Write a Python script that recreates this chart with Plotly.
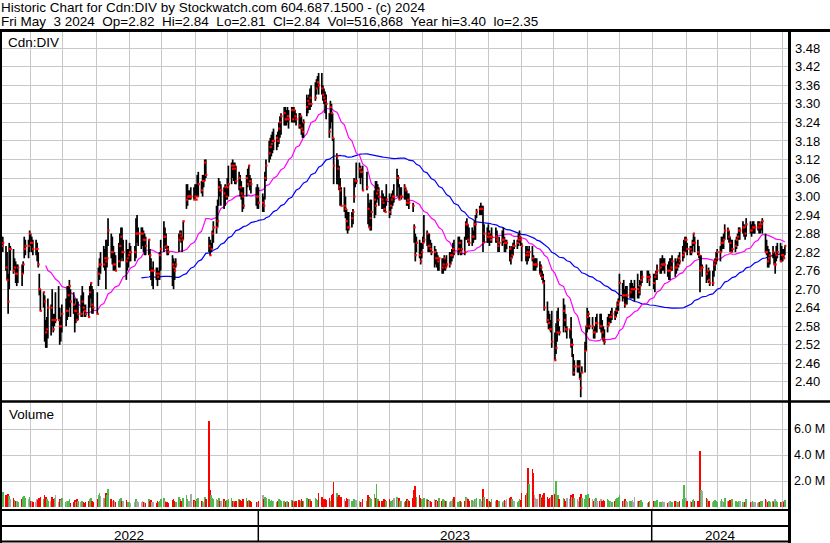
import numpy as np
import pandas as pd
import plotly.graph_objects as go

# ---------------- data ----------------
holidays = ["2022-05-23", "2022-07-01", "2022-08-01", "2022-09-05", "2022-10-10",
            "2022-12-26", "2022-12-27", "2023-01-02", "2023-02-20", "2023-04-07",
            "2023-05-22", "2023-07-03", "2023-08-07", "2023-09-04", "2023-10-09",
            "2023-12-25", "2023-12-26", "2024-01-01", "2024-02-19", "2024-03-29"]

highs = [
    2.88, 2.87, 2.87, 2.84, 2.82, 2.75, 2.85, 2.84, 2.83, 2.80, 2.79, 2.78, 2.78, 2.78, 2.79, 2.87, 2.86, 2.86, 2.89,  # May 22
    2.88, 2.87, 2.86, 2.86, 2.85, 2.82, 2.75, 2.70, 2.69, 2.68, 2.60, 2.61, 2.67, 2.65, 2.70, 2.62, 2.62, 2.69, 2.71, 2.64, 2.61, 2.65,  # Jun
    2.67, 2.71, 2.71, 2.73, 2.70, 2.69, 2.67, 2.65, 2.67, 2.66, 2.68, 2.71, 2.69, 2.65, 2.65, 2.68, 2.71, 2.72, 2.71, 2.70,  # Jul
    2.69, 2.77, 2.80, 2.82, 2.84, 2.83, 2.86, 2.86, 2.93, 2.88, 2.87, 2.84, 2.82, 2.81, 2.85, 2.88, 2.90, 2.90, 2.86, 2.86, 2.83, 2.83,  # Aug
    2.85, 2.84, 2.84, 2.93, 2.94, 2.90, 2.90, 2.90, 2.89, 2.88, 2.87, 2.86, 2.83, 2.80, 2.77, 2.79, 2.77, 2.77, 2.76, 2.82, 2.86,  # Sep
    2.92, 2.90, 2.88, 2.84, 2.84, 2.81, 2.80, 2.79, 2.80, 2.88, 2.89, 2.89, 2.87, 2.92, 3.04, 3.04, 3.02, 3.02, 3.03, 3.03,  # Oct
    3.04, 3.04, 3.07, 3.08, 3.05, 3.07, 3.07, 3.12, 3.12, 2.87, 2.86, 2.85, 2.89, 2.92, 2.97, 2.99, 3.06, 3.05, 3.04, 3.03, 3.04, 3.03,  # Nov
    3.06, 3.10, 3.11, 3.12, 3.11, 3.11, 3.10, 3.08, 3.07, 3.05, 3.03, 3.03, 3.07, 3.09, 3.10, 3.07, 3.06, 3.03, 3.04, 3.03,  # Dec
    3.01, 3.00, 3.08, 3.12, 3.18, 3.19, 3.20, 3.21, 3.22, 3.20, 3.21, 3.24, 3.26, 3.27, 3.29, 3.29, 3.28, 3.29, 3.28, 3.29, 3.29,  # Jan 23
    3.29, 3.28, 3.27, 3.27, 3.27, 3.26, 3.24, 3.25, 3.33, 3.32, 3.33, 3.35, 3.36, 3.37, 3.38, 3.39, 3.40, 3.40, 3.36,  # Feb
    3.35, 3.34, 3.33, 3.27, 3.31, 3.30, 3.27, 3.19, 3.14, 3.12, 3.10, 3.06, 3.03, 3.03, 3.00, 2.96, 2.95, 2.95, 2.95, 2.96, 3.06, 3.05, 3.11,  # Mar
    3.11, 3.10, 3.09, 3.10, 3.08, 3.01, 2.98, 2.99, 2.99, 3.02, 3.05, 3.05, 3.04, 3.03, 3.02, 3.01, 3.00, 3.00, 3.04,  # Apr
    3.01, 3.00, 3.01, 3.02, 3.04, 3.09, 3.07, 3.04, 3.03, 3.03, 3.04, 3.03, 3.02, 3.01, 3.01, 2.98, 2.91, 2.88, 2.87, 2.86, 2.85, 2.85,  # May
    2.87, 2.94, 2.89, 2.88, 2.88, 2.86, 2.85, 2.84, 2.83, 2.82, 2.81, 2.80, 2.80, 2.80, 2.81, 2.80, 2.81, 2.82, 2.82, 2.83, 2.85, 2.86,  # Jun
    2.87, 2.87, 2.86, 2.86, 2.87, 2.92, 2.93, 2.91, 2.90, 2.90, 2.89, 2.92, 2.94, 2.96, 2.97, 2.98, 2.97, 2.97, 2.91, 2.90,  # Jul
    2.91, 2.89, 2.88, 2.90, 2.90, 2.89, 2.85, 2.87, 2.89, 2.90, 2.87, 2.86, 2.86, 2.84, 2.83, 2.84, 2.85, 2.86, 2.86, 2.88, 2.89, 2.87,  # Aug
    2.85, 2.84, 2.84, 2.83, 2.84, 2.84, 2.81, 2.80, 2.80, 2.80, 2.79, 2.78, 2.76, 2.75, 2.73, 2.66, 2.63, 2.62, 2.60, 2.63,  # Sep
    2.56, 2.59, 2.63, 2.64, 2.58, 2.67, 2.65, 2.62, 2.58, 2.57, 2.61, 2.54, 2.49, 2.47, 2.47, 2.47, 2.47, 2.43, 2.45, 2.53, 2.58,  # Oct
    2.64, 2.63, 2.61, 2.61, 2.57, 2.58, 2.61, 2.62, 2.62, 2.62, 2.60, 2.58, 2.57, 2.61, 2.62, 2.62, 2.63, 2.64, 2.63, 2.64, 2.66, 2.67,  # Nov
    2.75, 2.72, 2.73, 2.70, 2.71, 2.71, 2.72, 2.73, 2.72, 2.71, 2.73, 2.75, 2.71, 2.73, 2.76, 2.76, 2.76, 2.76, 2.75,  # Dec
    2.75, 2.75, 2.76, 2.78, 2.80, 2.80, 2.81, 2.80, 2.80, 2.78, 2.79, 2.80, 2.80, 2.81, 2.80, 2.79, 2.80, 2.81, 2.82, 2.84, 2.86, 2.87,  # Jan 24
    2.87, 2.85, 2.84, 2.84, 2.86, 2.88, 2.87, 2.86, 2.84, 2.81, 2.81, 2.78, 2.78, 2.76, 2.77, 2.76, 2.76, 2.79, 2.80, 2.82,  # Feb
    2.83, 2.84, 2.87, 2.87, 2.88, 2.91, 2.90, 2.89, 2.87, 2.86, 2.86, 2.86, 2.87, 2.88, 2.90, 2.90, 2.92, 2.91, 2.90, 2.93,  # Mar
    2.92, 2.91, 2.92, 2.92, 2.91, 2.92, 2.92, 2.91, 2.92, 2.93, 2.88, 2.86, 2.84, 2.83, 2.82, 2.84, 2.82, 2.81, 2.84, 2.85, 2.85, 2.84,  # Apr
    2.83, 2.83, 2.84,  # May
]

lows = [
    2.82, 2.82, 2.82, 2.76, 2.73, 2.62, 2.70, 2.76, 2.75, 2.76, 2.72, 2.71, 2.72, 2.71, 2.75, 2.80, 2.81, 2.80, 2.82,
    2.84, 2.82, 2.81, 2.81, 2.79, 2.77, 2.68, 2.63, 2.64, 2.53, 2.51, 2.51, 2.54, 2.55, 2.58, 2.56, 2.58, 2.59, 2.60, 2.52, 2.53, 2.56,
    2.58, 2.60, 2.61, 2.64, 2.61, 2.62, 2.56, 2.59, 2.60, 2.60, 2.61, 2.61, 2.63, 2.61, 2.61, 2.61, 2.64, 2.67, 2.62, 2.62,
    2.62, 2.71, 2.73, 2.75, 2.77, 2.76, 2.70, 2.77, 2.84, 2.80, 2.78, 2.76, 2.76, 2.76, 2.77, 2.77, 2.79, 2.80, 2.79, 2.73, 2.76, 2.77,
    2.79, 2.79, 2.79, 2.80, 2.85, 2.84, 2.83, 2.84, 2.82, 2.81, 2.81, 2.81, 2.76, 2.73, 2.71, 2.70, 2.73, 2.71, 2.73, 2.73, 2.76,
    2.82, 2.84, 2.83, 2.81, 2.81, 2.71, 2.70, 2.73, 2.77, 2.82, 2.86, 2.85, 2.82, 2.86, 2.96, 2.97, 2.99, 2.99, 2.99, 2.99,
    2.99, 3.00, 3.00, 3.00, 3.01, 3.00, 3.03, 3.05, 3.06, 2.82, 2.81, 2.82, 2.83, 2.85, 2.88, 2.90, 2.97, 3.00, 2.97, 2.96, 2.97, 2.99,
    2.99, 3.00, 3.04, 3.06, 3.05, 3.04, 3.04, 3.02, 3.00, 2.99, 2.95, 2.96, 3.00, 3.03, 3.04, 3.02, 3.01, 2.97, 2.96, 2.96,
    2.95, 2.95, 2.99, 3.05, 3.11, 3.12, 3.13, 3.14, 3.15, 3.15, 3.16, 3.17, 3.19, 3.20, 3.23, 3.23, 3.23, 3.24, 3.22, 3.24, 3.24,
    3.24, 3.24, 3.23, 3.22, 3.22, 3.20, 3.19, 3.19, 3.26, 3.27, 3.28, 3.28, 3.29, 3.31, 3.33, 3.35, 3.33, 3.33, 3.31,
    3.30, 3.27, 3.25, 3.19, 3.22, 3.24, 3.18, 3.04, 3.04, 3.04, 3.02, 2.97, 2.97, 2.95, 2.93, 2.89, 2.88, 2.89, 2.90, 2.91, 2.98, 3.03, 3.04,
    3.06, 3.04, 3.06, 3.02, 3.02, 2.91, 2.90, 2.89, 2.89, 2.93, 2.94, 2.98, 2.99, 2.97, 2.96, 2.96, 2.95, 2.95, 2.97,
    2.93, 2.94, 2.96, 2.97, 2.98, 3.00, 3.03, 2.99, 3.00, 2.99, 2.99, 2.99, 2.97, 2.97, 2.96, 2.95, 2.85, 2.79, 2.82, 2.80, 2.78, 2.80,
    2.83, 2.85, 2.84, 2.82, 2.82, 2.82, 2.81, 2.77, 2.78, 2.77, 2.76, 2.76, 2.75, 2.75, 2.76, 2.76, 2.77, 2.77, 2.78, 2.79, 2.80, 2.81,
    2.81, 2.82, 2.81, 2.81, 2.81, 2.86, 2.86, 2.85, 2.84, 2.84, 2.85, 2.86, 2.86, 2.93, 2.94, 2.94, 2.94, 2.82, 2.85, 2.85,
    2.85, 2.84, 2.85, 2.85, 2.85, 2.85, 2.82, 2.82, 2.84, 2.85, 2.82, 2.82, 2.83, 2.79, 2.78, 2.80, 2.81, 2.83, 2.83, 2.84, 2.85, 2.84,
    2.79, 2.79, 2.78, 2.79, 2.80, 2.79, 2.76, 2.76, 2.76, 2.77, 2.75, 2.74, 2.73, 2.72, 2.63, 2.59, 2.57, 2.57, 2.56, 2.51,
    2.47, 2.49, 2.53, 2.56, 2.55, 2.56, 2.58, 2.56, 2.54, 2.54, 2.51, 2.48, 2.42, 2.42, 2.43, 2.43, 2.41, 2.35, 2.43, 2.43, 2.50,
    2.56, 2.57, 2.57, 2.57, 2.54, 2.54, 2.56, 2.56, 2.57, 2.56, 2.54, 2.53, 2.52, 2.56, 2.58, 2.59, 2.59, 2.60, 2.60, 2.61, 2.62, 2.63,
    2.66, 2.66, 2.67, 2.64, 2.65, 2.65, 2.67, 2.67, 2.67, 2.67, 2.66, 2.67, 2.67, 2.68, 2.71, 2.72, 2.72, 2.73, 2.71,
    2.70, 2.69, 2.73, 2.73, 2.75, 2.75, 2.76, 2.76, 2.75, 2.74, 2.73, 2.73, 2.76, 2.76, 2.74, 2.75, 2.76, 2.77, 2.78, 2.79, 2.80, 2.82,
    2.82, 2.81, 2.81, 2.81, 2.82, 2.84, 2.82, 2.81, 2.80, 2.69, 2.77, 2.74, 2.72, 2.73, 2.72, 2.71, 2.71, 2.74, 2.76, 2.78,
    2.79, 2.79, 2.82, 2.83, 2.83, 2.86, 2.86, 2.85, 2.82, 2.82, 2.82, 2.82, 2.83, 2.84, 2.86, 2.86, 2.88, 2.87, 2.86, 2.87,
    2.88, 2.87, 2.88, 2.88, 2.88, 2.89, 2.88, 2.88, 2.89, 2.88, 2.82, 2.81, 2.77, 2.77, 2.78, 2.80, 2.78, 2.75, 2.79, 2.80, 2.79, 2.79,
    2.79, 2.80, 2.81,
]

closes = [
    2.86, 2.84, 2.85, 2.77, 2.73, 2.66, 2.83, 2.83, 2.76, 2.77, 2.75, 2.75, 2.77, 2.75, 2.78, 2.83, 2.84, 2.84, 2.88,
    2.85, 2.85, 2.83, 2.83, 2.83, 2.78, 2.70, 2.63, 2.69, 2.66, 2.56, 2.57, 2.64, 2.64, 2.60, 2.57, 2.60, 2.60, 2.60, 2.58, 2.58, 2.62,
    2.63, 2.63, 2.68, 2.71, 2.66, 2.65, 2.63, 2.63, 2.60, 2.62, 2.62, 2.66, 2.64, 2.63, 2.62, 2.61, 2.69, 2.72, 2.65, 2.64,
    2.62, 2.75, 2.78, 2.78, 2.78, 2.80, 2.79, 2.80, 2.89, 2.82, 2.82, 2.78, 2.78, 2.76, 2.79, 2.84, 2.87, 2.82, 2.82, 2.79, 2.80, 2.81,
    2.82, 2.82, 2.82, 2.88, 2.88, 2.88, 2.88, 2.88, 2.86, 2.86, 2.84, 2.86, 2.81, 2.76, 2.76, 2.76, 2.75, 2.74, 2.75, 2.81, 2.83,
    2.87, 2.87, 2.84, 2.83, 2.82, 2.78, 2.77, 2.76, 2.78, 2.86, 2.88, 2.87, 2.86, 2.92, 2.99, 3.00, 3.00, 3.00, 3.00, 2.99,
    3.00, 2.99, 3.00, 3.04, 3.02, 3.05, 3.05, 3.11, 3.07, 2.84, 2.81, 2.83, 2.88, 2.90, 2.90, 2.92, 3.03, 3.02, 3.02, 3.01, 3.03, 3.00,
    3.03, 3.04, 3.10, 3.09, 3.10, 3.09, 3.05, 3.06, 3.03, 3.01, 3.00, 2.97, 3.06, 3.04, 3.10, 3.05, 3.04, 3.00, 3.00, 2.98,
    2.98, 2.97, 3.06, 3.10, 3.14, 3.16, 3.17, 3.18, 3.18, 3.19, 3.18, 3.22, 3.24, 3.26, 3.27, 3.25, 3.25, 3.26, 3.25, 3.28, 3.25,
    3.28, 3.26, 3.25, 3.23, 3.26, 3.22, 3.21, 3.24, 3.29, 3.31, 3.30, 3.32, 3.30, 3.32, 3.35, 3.37, 3.36, 3.35, 3.33,
    3.32, 3.31, 3.30, 3.21, 3.29, 3.27, 3.19, 3.10, 3.13, 3.09, 3.03, 3.02, 2.97, 2.97, 2.96, 2.92, 2.90, 2.90, 2.93, 2.95, 3.00, 3.05, 3.05,
    3.09, 3.08, 3.08, 3.02, 3.03, 2.96, 2.90, 2.93, 2.95, 2.99, 2.97, 3.01, 3.02, 3.00, 2.99, 2.98, 2.96, 2.95, 2.99,
    2.95, 2.97, 2.99, 3.00, 3.00, 3.06, 3.06, 2.99, 3.00, 3.00, 3.03, 3.02, 2.98, 2.99, 2.98, 2.97, 2.90, 2.81, 2.85, 2.81, 2.79, 2.82,
    2.85, 2.86, 2.88, 2.84, 2.84, 2.83, 2.82, 2.82, 2.80, 2.80, 2.79, 2.80, 2.77, 2.78, 2.80, 2.77, 2.78, 2.78, 2.81, 2.81, 2.83, 2.82,
    2.83, 2.85, 2.82, 2.83, 2.82, 2.91, 2.91, 2.86, 2.85, 2.87, 2.87, 2.91, 2.91, 2.95, 2.96, 2.96, 2.96, 2.85, 2.88, 2.87,
    2.88, 2.87, 2.86, 2.87, 2.87, 2.86, 2.84, 2.85, 2.86, 2.86, 2.85, 2.85, 2.85, 2.83, 2.80, 2.81, 2.84, 2.84, 2.85, 2.86, 2.87, 2.86,
    2.84, 2.81, 2.82, 2.81, 2.82, 2.80, 2.78, 2.78, 2.78, 2.78, 2.75, 2.77, 2.74, 2.72, 2.64, 2.60, 2.59, 2.57, 2.57, 2.53,
    2.47, 2.51, 2.56, 2.60, 2.56, 2.63, 2.60, 2.57, 2.57, 2.57, 2.52, 2.52, 2.43, 2.45, 2.45, 2.45, 2.41, 2.38, 2.43, 2.50, 2.58,
    2.61, 2.62, 2.58, 2.58, 2.56, 2.56, 2.59, 2.59, 2.58, 2.58, 2.56, 2.54, 2.53, 2.58, 2.59, 2.61, 2.61, 2.62, 2.61, 2.63, 2.65, 2.66,
    2.72, 2.68, 2.68, 2.65, 2.68, 2.68, 2.69, 2.70, 2.70, 2.70, 2.70, 2.70, 2.69, 2.71, 2.73, 2.74, 2.74, 2.73, 2.74,
    2.72, 2.74, 2.75, 2.76, 2.77, 2.78, 2.78, 2.78, 2.78, 2.76, 2.76, 2.76, 2.77, 2.79, 2.77, 2.77, 2.78, 2.80, 2.79, 2.81, 2.82, 2.86,
    2.86, 2.83, 2.83, 2.82, 2.85, 2.88, 2.85, 2.82, 2.81, 2.76, 2.77, 2.77, 2.75, 2.76, 2.73, 2.72, 2.72, 2.78, 2.79, 2.80,
    2.82, 2.82, 2.85, 2.85, 2.86, 2.89, 2.89, 2.87, 2.85, 2.82, 2.83, 2.84, 2.86, 2.87, 2.89, 2.89, 2.90, 2.90, 2.88, 2.91,
    2.89, 2.89, 2.90, 2.90, 2.90, 2.90, 2.91, 2.90, 2.91, 2.92, 2.82, 2.82, 2.79, 2.80, 2.81, 2.82, 2.78, 2.78, 2.81, 2.82, 2.79, 2.81,
    2.81, 2.80, 2.84,
]

volumes_k = [
    650, 700, 1150, 900, 800, 1000, 850, 600, 700, 550, 500, 450, 400, 650, 800, 850, 700, 600, 750,
    500, 450, 400, 350, 600, 550, 700, 800, 650, 900, 750, 600, 500, 450, 800, 600, 700, 900, 400, 650, 550, 700,
    400, 450, 500, 650, 300, 350, 550, 400, 600, 450, 350, 500, 400, 300, 350, 450, 600, 700, 500, 400,
    600, 900, 1100, 850, 700, 600, 1050, 900, 1400, 600, 500, 550, 450, 400, 450, 600, 700, 500, 450, 550, 400, 350,
    400, 300, 350, 600, 500, 400, 350, 450, 400, 350, 300, 600, 500, 550, 400, 350, 300, 450, 350, 500, 600,
    700, 500, 400, 350, 300, 550, 600, 450, 400, 800, 600, 500, 450, 700, 900, 600, 500, 450, 1000, 550,
    500, 450, 600, 700, 450, 500, 400, 800, 600, 6600, 1300, 900, 700, 650, 600, 550, 700, 500, 450, 600, 500, 450,
    550, 600, 700, 500, 450, 400, 500, 600, 550, 500, 600, 650, 700, 500, 550, 450, 400, 350, 400, 500,
    900, 600, 800, 700, 650, 500, 550, 450, 500, 400, 450, 600, 550, 500, 450, 400, 500, 450, 400, 550, 500,
    450, 400, 500, 550, 450, 600, 500, 450, 700, 550, 600, 650, 500, 700, 600, 550, 1100, 800, 600,
    500, 600, 550, 700, 500, 900, 1000, 1900, 1100, 800, 900, 700, 800, 600, 500, 700, 650, 600, 500, 450, 600, 500, 550,
    450, 400, 350, 600, 500, 900, 800, 700, 600, 1000, 700, 1750, 600, 500, 450, 500, 600, 550, 500,
    600, 500, 450, 550, 700, 800, 600, 700, 500, 450, 400, 500, 600, 550, 450, 700, 1300, 1600, 800, 900, 700, 600,
    500, 700, 600, 550, 500, 450, 400, 600, 550, 500, 450, 700, 500, 600, 550, 500, 450, 400, 500, 450, 600, 800,
    400, 450, 500, 400, 450, 800, 700, 600, 500, 550, 450, 600, 650, 700, 600, 500, 450, 1400, 800, 600,
    500, 450, 400, 600, 500, 550, 500, 450, 400, 500, 550, 450, 600, 700, 800, 650, 500, 450, 400, 500, 600, 550,
    1100, 900, 1100, 3000, 1750, 2900, 2600, 900, 700, 600, 1000, 800, 700, 900, 1100, 800, 600, 700, 800, 900,
    1000, 2000, 800, 900, 600, 700, 600, 500, 700, 600, 900, 800, 1000, 700, 600, 500, 800, 1000, 700, 600, 900,
    800, 1000, 700, 600, 500, 600, 700, 500, 450, 600, 500, 550, 500, 600, 550, 500, 400, 350, 450, 600, 700, 800,
    900, 500, 450, 600, 500, 400, 450, 500, 550, 400, 800, 500, 450, 400, 550, 400, 300, 350, 450,
    500, 450, 400, 550, 400, 350, 450, 400, 350, 300, 400, 450, 350, 400, 500, 450, 400, 350, 450, 600, 1700, 700,
    600, 500, 450, 400, 550, 600, 500, 450, 500, 4300, 1300, 1200, 700, 600, 500, 450, 400, 450, 550, 500,
    400, 500, 600, 450, 400, 700, 500, 450, 550, 400, 600, 500, 450, 400, 500, 450, 400, 350, 400, 600,
    350, 400, 450, 400, 350, 300, 400, 350, 500, 450, 600, 550, 400, 450, 350, 500, 400, 600, 450, 400, 350, 400,
    450, 400, 516.868,
]

price_ticks = [2.40, 2.46, 2.52, 2.58, 2.64, 2.70, 2.76, 2.82, 2.88, 2.94, 3.00,
               3.06, 3.12, 3.18, 3.24, 3.30, 3.36, 3.42, 3.48]
vol_ticks = [2e6, 4e6, 6e6]
vol_tick_text = ["2.0 M", "4.0 M", "6.0 M"]
years = ["2022", "2023", "2024"]

# ---------------- build ----------------
hol = set(holidays)
dates = [d for d in pd.bdate_range("2022-05-04", "2024-05-03") if d.strftime("%Y-%m-%d") not in hol]
n = min(len(dates), len(highs), len(lows), len(closes), len(volumes_k))
if len({len(dates), len(highs), len(lows), len(closes), len(volumes_k)}) != 1:
    print("LENGTH MISMATCH", len(dates), len(highs), len(lows), len(closes), len(volumes_k))
df = pd.DataFrame({"date": dates[:n], "high": highs[:n], "low": lows[:n],
                   "close": closes[:n], "vol": np.array(volumes_k[:n]) * 1000})
df["ma30"] = df["close"].rolling(30).mean()
df["ma90"] = df["close"].rolling(90).mean()
chg = df["close"].diff().round(4).fillna(0)
vcol = np.where(chg > 0, "#4cbb4c", np.where(chg < 0, "#ff0000", "#a8a8a8"))

W, H = 830, 543
def px(x):
    return x / W
def py(y):
    return 1 - y / H

FONT = "Liberation Sans, Arial, sans-serif"

fig = go.Figure()
fig.add_trace(go.Scatter(x=df["date"], y=df["ma90"], mode="lines",
                         line=dict(color="#0000ff", width=1.2), hoverinfo="skip"))
fig.add_trace(go.Scatter(x=df["date"], y=df["ma30"], mode="lines",
                         line=dict(color="#ff00ff", width=1.2), hoverinfo="skip"))

bx, by = [], []
for d, h, l in zip(df["date"], df["high"], df["low"]):
    bx += [d, d, None]
    by += [l, h, None]
fig.add_trace(go.Scatter(x=bx, y=by, mode="lines", line=dict(color="black", width=1.7),
                         hoverinfo="skip"))
fig.add_trace(go.Scatter(x=df["date"] + pd.Timedelta(hours=9), y=df["close"], mode="markers",
                         marker=dict(symbol="square", size=2.2, color="#ff0000", line=dict(width=0)),
                         hoverinfo="skip"))

fig.add_trace(go.Bar(x=df["date"], y=df["vol"], marker=dict(color=list(vcol), line=dict(width=0)),
                     width=1.5 * 86400000, xaxis="x2", yaxis="y2", hoverinfo="skip"))

jun1 = pd.Timestamp("2022-06-01")
ppd = 1.0743  # pixels per calendar day
x_left = jun1 + pd.Timedelta(days=(2 - 30.7) / ppd)
x_right = jun1 + pd.Timedelta(days=(788 - 30.7) / ppd)

xcommon = dict(type="date", range=[x_left, x_right], showgrid=True, gridcolor="#c8c8c8", gridwidth=1,
               dtick="M1", tick0="2022-06-01", showticklabels=False, ticks="", zeroline=False,
               showline=False, domain=[px(2), px(788)])

def price_at(y):
    return 3.48 - (y - 48.3) / 308.8

vol_top_px, vol_bot_px, vol_zero_px, vol6_px = 403, 509, 507, 429
mpp = 6e6 / (vol_zero_px - vol6_px)

fig.update_layout(
    width=W, height=H, margin=dict(l=0, r=0, t=0, b=0),
    paper_bgcolor="white", plot_bgcolor="white", showlegend=False, bargap=0,
    xaxis=dict(**xcommon, anchor="y"),
    xaxis2=dict(**xcommon, anchor="y2", matches="x"),
    yaxis=dict(domain=[py(400), py(32)], range=[price_at(400), price_at(32)], side="right",
               tickvals=price_ticks, ticktext=[f"{v:.2f}" for v in price_ticks],
               showgrid=True, gridcolor="#c8c8c8", gridwidth=1, zeroline=False, ticks="",
               ticklabelstandoff=6, tickfont=dict(family=FONT, size=13, color="black"), anchor="x"),
    yaxis2=dict(domain=[py(vol_bot_px), py(vol_top_px)],
                range=[-(vol_bot_px - vol_zero_px) * mpp, (vol_zero_px - vol_top_px) * mpp],
                side="right", tickvals=vol_ticks, ticktext=vol_tick_text,
                showgrid=True, gridcolor="#c8c8c8", gridwidth=1, zeroline=False, ticks="",
                ticklabelstandoff=5, tickfont=dict(family=FONT, size=12.5, color="black"), anchor="x2"),
)

def line(x0, y0, x1, y1, w):
    return dict(type="line", xref="paper", yref="paper", x0=px(x0), y0=py(y0), x1=px(x1), y1=py(y1),
                line=dict(color="black", width=w), layer="above")

shapes = [
    line(0, 30.5, 830, 30.5, 3),
    line(1, 29, 1, 543, 2),
    line(789.5, 29, 789.5, 543, 3),
    line(0, 401.5, 830, 401.5, 2.5),
    line(0, 510, 790, 510, 2),
    line(0, 526, 790, 526, 2),
    line(0, 541.5, 790, 541.5, 2),
    line(258.3, 510, 258.3, 541, 1.5),
    line(651.7, 510, 651.7, 541, 1.5),
]
fig.update_layout(shapes=shapes)

def ann(text, x, y, size=13.5, xanchor="left"):
    return dict(text=text, x=px(x), y=py(y), xref="paper", yref="paper", xanchor=xanchor,
                yanchor="middle", showarrow=False, borderpad=0,
                font=dict(family=FONT, size=size, color="black"))

nb = "\u00a0"
gap = nb * 2
line2 = ("Fri May" + gap + "3 2024" + gap + "Op=2.82" + gap + "Hi=2.84" + gap + "Lo=2.81"
         + gap + "Cl=2.84" + gap + "Vol=516,868" + gap + "Year hi=3.40" + gap + "lo=2.35")
annotations = [
    ann("Historic Chart for Cdn:DIV by Stockwatch.com 604.687.1500 - (c) 2024", 0, 7.5),
    ann(line2, 0, 21.5),
    ann("Cdn:DIV", 7, 42.5, size=13.5),
    ann("Volume", 8, 414, size=13.5),
    ann(years[0], 128.5, 535, size=13.5, xanchor="center"),
    ann(years[1], 455, 535, size=13.5, xanchor="center"),
    ann(years[2], 720.5, 535, size=13.5, xanchor="center"),
]
fig.update_layout(annotations=annotations)

fig.write_html("out.html", config={"displayModeBar": False, "staticPlot": True},
               post_script="document.body.style.margin='0';document.body.style.overflow='hidden';")
